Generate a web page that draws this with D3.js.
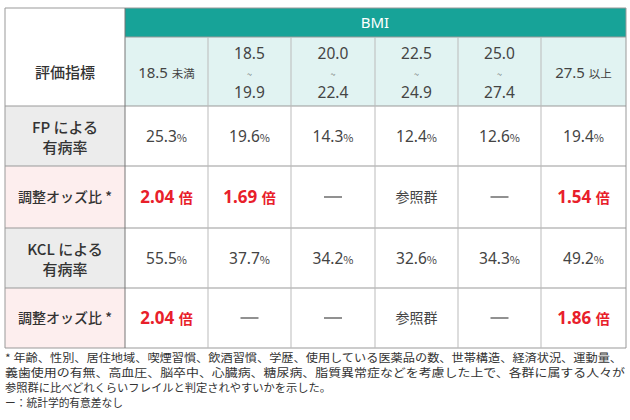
<!DOCTYPE html><html><head><meta charset="utf-8"><script src="https://cdn.jsdelivr.net/npm/d3@7"></script>
<style>body{margin:0;background:#fff}svg{font-family:"Noto Sans CJK JP","Noto Sans",sans-serif}.num{font-family:"Noto Sans","Open Sans",sans-serif}</style></head><body><svg id="c" width="630" height="420"></svg>
<script>
const bmiCols=[["18.5 ","未満"],["18.5","~","19.9"],["20.0","~","22.4"],["22.5","~","24.9"],["25.0","~","27.4"],["27.5 ","以上"]];
const rowLabels=[["FP による","有病率"],["調整オッズ比 *"],["KCL による","有病率"],["調整オッズ比 *"]];
const fpPrev=[25.3,19.6,14.3,12.4,12.6,19.4];
const fpOdds=["2.04","1.69","—","参照群","—","1.54"];
const kclPrev=[55.5,37.7,34.2,32.6,34.3,49.2];
const kclOdds=["2.04","—","—","参照群","—","1.86"];
const footnotes=["* 年齢、性別、居住地域、喫煙習慣、飲酒習慣、学歴、使用している医薬品の数、世帯構造、経済状況、運動量、","義歯使用の有無、高血圧、脳卒中、心臓病、糖尿病、脂質異常症などを考慮した上で、各群に属する人々が","参照群に比べどれくらいフレイルと判定されやすいかを示した。","ー：統計学的有意差なし"];
const fnLen=[617,620,326,118];
const svg=d3.select("#c");
const colX=[5,125,208,291,375,458,541,626];
const rowY=[8,37,106,166,228,288,348];
const line="#999";
function rect(x0,y0,x1,y1,fill){svg.append("rect").attr("x",x0).attr("y",y0).attr("width",x1-x0).attr("height",y1-y0).attr("fill",fill);}
rect(5,8,125,106,"#fff");
rect(125,8,626,37,"#17a398");
rect(125,37,626,106,"#e1f3f2");
rect(5,106,125,166,"#ececec");rect(5,166,125,228,"#fdeeee");
rect(5,228,125,288,"#ececec");rect(5,288,125,348,"#fdeeee");
svg.append("text").attr("x",375).attr("y",28).attr("text-anchor","middle").attr("fill","#fff").attr("font-size",15).attr("class","num").text("BMI");
svg.append("text").attr("x",65).attr("y",78).attr("text-anchor","middle").attr("fill","#333").attr("font-size",15).attr("font-weight",500).text("評価指標");
bmiCols.forEach((c,i)=>{const cx=(colX[i+1]+colX[i+2])/2;
 if(c.length===2){const t=svg.append("text").attr("x",cx).attr("y",78).attr("text-anchor","middle").attr("fill","#444");
  t.append("tspan").attr("class","num").attr("font-size",15).text(c[0]);t.append("tspan").attr("font-size",11.5).text(c[1]);}
 else{svg.append("text").attr("x",cx).attr("y",59).attr("text-anchor","middle").attr("fill","#444").attr("font-size",15.5).attr("class","num").text(c[0]);
  svg.append("text").attr("x",cx).attr("y",78).attr("text-anchor","middle").attr("fill","#666").attr("font-size",9).text("~");
  svg.append("text").attr("x",cx).attr("y",98).attr("text-anchor","middle").attr("fill","#444").attr("font-size",15.5).attr("class","num").text(c[2]);}
});
rowLabels.forEach((l,r)=>{const cy=(rowY[r+2]+rowY[r+3])/2;
 if(l.length===2){[0,1].forEach(k=>svg.append("text").attr("x",65).attr("y",cy-3+k*20).attr("text-anchor","middle").attr("fill","#333").attr("font-size",15).attr("font-weight",500).text(l[k]));}
 else svg.append("text").attr("x",65).attr("y",cy+5).attr("text-anchor","middle").attr("fill","#333").attr("font-size",14).attr("font-weight",500).text(l[0]);
});
function prevRow(vals,r){const cy=(rowY[r]+rowY[r+1])/2;vals.forEach((v,i)=>{const t=svg.append("text").attr("x",(colX[i+1]+colX[i+2])/2).attr("y",cy+6).attr("text-anchor","middle").attr("fill","#444");
 t.append("tspan").attr("class","num").attr("font-size",15.5).text(v.toFixed(1));t.append("tspan").attr("font-size",11).text("%");});}
function oddsRow(vals,r){const cy=(rowY[r]+rowY[r+1])/2;vals.forEach((v,i)=>{const x=(colX[i+1]+colX[i+2])/2;
 if(v==="—"){svg.append("line").attr("x1",x-9).attr("x2",x+9).attr("y1",cy).attr("y2",cy).attr("stroke","#555").attr("stroke-width",1.3);}
 else if(v==="参照群"){svg.append("text").attr("x",x).attr("y",cy+5).attr("text-anchor","middle").attr("fill","#444").attr("font-size",14).text(v);}
 else{const t=svg.append("text").attr("x",x).attr("y",cy+6).attr("text-anchor","middle").attr("fill","#e8202a").attr("font-weight",700);
  t.append("tspan").attr("class","num").attr("font-size",17).text(v+" ");t.append("tspan").attr("font-size",14).text("倍");}});}
prevRow(fpPrev,2);oddsRow(fpOdds,3);prevRow(kclPrev,4);oddsRow(kclOdds,5);
rowY.forEach((y,i)=>{const x0=(i===1)?125:5;svg.append("line").attr("x1",x0).attr("x2",626).attr("y1",y).attr("y2",y).attr("stroke",line);});
colX.forEach((x,i)=>{const y0=(i>=2&&i<=6)?37:8;svg.append("line").attr("x1",x).attr("x2",x).attr("y1",y0).attr("y2",348).attr("stroke",i===1?"#777":(i>=2&&i<=6?"#bbb":line));});
footnotes.forEach((f,i)=>svg.append("text").attr("x",5).attr("y",362+i*15).attr("fill","#333").attr("font-size",11).attr("textLength",fnLen[i]).attr("lengthAdjust","spacingAndGlyphs").text(f));
</script></body></html>
